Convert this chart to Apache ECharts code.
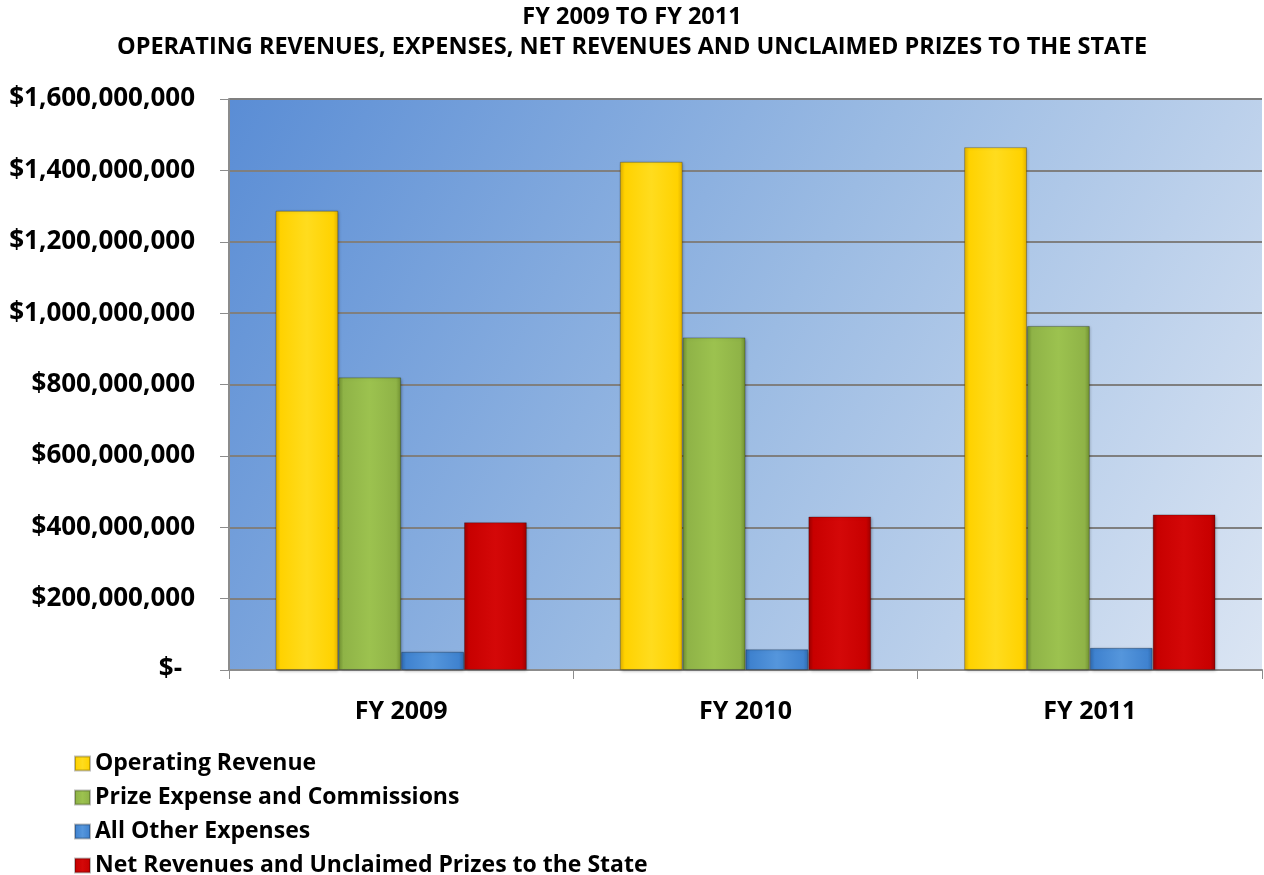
<!DOCTYPE html>
<html>
<head>
<meta charset="utf-8">
<script src="https://cdn.jsdelivr.net/npm/echarts@6/dist/echarts.min.js"></script>
<style>
  html, body { margin: 0; padding: 0; background: #fff; }
  #chart { width: 1264px; height: 875px; }
</style>
</head>
<body>
<div id="chart"></div>
<script>
// values, in dollars
const years = ['FY 2009', 'FY 2010', 'FY 2011'];
const operatingRevenue = [1287000000, 1424000000, 1465000000];
const prizeExpense = [820000000, 932000000, 964000000];
const otherExpenses = [51000000, 58000000, 62000000];
const netRevenues = [414000000, 430000000, 436000000];
const yTicks = [0, 200000000, 400000000, 600000000, 800000000, 1000000000, 1200000000, 1400000000, 1600000000];

const FONT = '"Open Sans", sans-serif';

function bevel(dark, mid, light) {
    return new echarts.graphic.LinearGradient(0, 0, 1, 0, [
        { offset: 0, color: dark },
        { offset: 0.08, color: mid },
        { offset: 0.5, color: light },
        { offset: 0.92, color: mid },
        { offset: 1, color: dark }
    ]);
}

const colors = [
    bevel('#e0b000', '#ffd200', '#ffdc1e'),
    bevel('#6f8f30', '#8fb347', '#9cc24f'),
    bevel('#2f6bb0', '#3f82cf', '#5596dc'),
    bevel('#9a0000', '#c80000', '#d40808')
];

function makeSeries(name, data, i) {
    return {
        name: name,
        type: 'bar',
        data: data,
        barGap: '0%',
        barCategoryGap: '27%',
        itemStyle: {
            color: colors[i],
            borderColor: 'rgba(0,0,0,0.25)',
            borderWidth: 1,
            shadowColor: 'rgba(0,0,0,0.3)',
            shadowBlur: 3,
            shadowOffsetX: 1,
            shadowOffsetY: 1
        }
    };
}

const chart = echarts.init(document.getElementById('chart'));
chart.setOption({
    animation: false,
    backgroundColor: '#ffffff',
    title: {
        text: 'FY 2009 TO FY 2011\nOPERATING REVENUES, EXPENSES, NET REVENUES AND UNCLAIMED PRIZES TO THE STATE',
        left: 'center',
        top: 2,
        padding: 0,
        textStyle: {
            fontFamily: FONT,
            fontWeight: 'bold',
            fontSize: 23.5,
            lineHeight: 30,
            color: '#000'
        }
    },
    legend: {
        orient: 'vertical',
        left: 74,
        top: 752,
        height: 130,
        padding: 0,
        itemWidth: 15,
        itemHeight: 14,
        itemGap: 11,
        icon: 'rect',
        textStyle: {
            fontFamily: FONT,
            fontWeight: 'bold',
            fontSize: 23,
            color: '#000'
        }
    },
    grid: {
        left: 229,
        right: 2,
        top: 99,
        bottom: 205,
        show: true,
        borderWidth: 0,
        backgroundColor: new echarts.graphic.LinearGradient(0, 0, 1, 1, [
            { offset: 0, color: '#5a8dd5' },
            { offset: 0.5, color: '#9bbbe3' },
            { offset: 1, color: '#dbe5f3' }
        ])
    },
    xAxis: {
        type: 'category',
        data: years,
        axisLine: { lineStyle: { color: '#8c8c8c', width: 2 } },
        axisTick: { show: true, length: 9, lineStyle: { color: '#8c8c8c' } },
        axisLabel: {
            margin: 29,
            fontFamily: FONT,
            fontWeight: 'bold',
            fontSize: 25,
            color: '#000'
        }
    },
    yAxis: {
        type: 'value',
        min: yTicks[0],
        max: yTicks[yTicks.length - 1],
        interval: yTicks[1] - yTicks[0],
        axisLine: { show: true, lineStyle: { color: '#8c8c8c', width: 2 } },
        axisTick: { show: true, length: 9, lineStyle: { color: '#8c8c8c' } },
        splitLine: { lineStyle: { color: '#7f7f7f', width: 2 } },
        axisLabel: {
            margin: 34,
            fontFamily: FONT,
            fontWeight: 'bold',
            fontSize: 26,
            color: '#000',
            formatter: function (v) {
                if (v === 0) return '{z|$-}';
                return '$' + v.toLocaleString('en-US');
            },
            rich: {
                z: {
                    fontFamily: FONT,
                    fontWeight: 'bold',
                    fontSize: 26,
                    color: '#000',
                    padding: [0, 13, 0, 0]
                }
            }
        }
    },
    series: [
        makeSeries('Operating Revenue', operatingRevenue, 0),
        makeSeries('Prize Expense and Commissions', prizeExpense, 1),
        makeSeries('All Other Expenses', otherExpenses, 2),
        makeSeries('Net Revenues and Unclaimed Prizes to the State', netRevenues, 3)
    ]
});
</script>
</body>
</html>
